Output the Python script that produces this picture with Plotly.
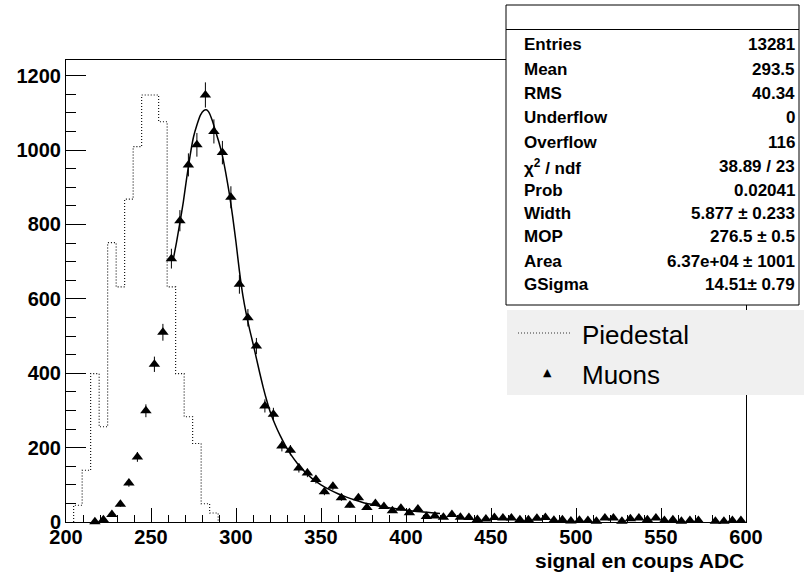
import numpy as np
import plotly.graph_objects as go

# ---------------- data ----------------
bin_width = 5.0

# Muons histogram (points with errors), first bin centre
muon_first_center = 217.0
muon_counts = [1, 6, 20, 48, 105, 175, 299, 424, 510, 708,
               810, 960, 1014, 1148, 1050, 993, 873, 639, 549, 473,
               312, 290, 204, 193, 145, 132, 114, 81, 96, 65,
               45, 65, 39, 50, 42, 30, 37, 25, 35, 15,
               16, 13, 20, 13, 12, 7, 8, 12, 11, 11,
               6, 6, 10, 12, 5, 6, 3, 5, 4, 2,
               11, 11, 2, 9, 11, 6, 11, 4, 6, 2,
               4, 4, 0, 2, 2, 4, 4]

# Piedestal histogram (dotted step line), first bin lower edge
ped_first_edge = 204.5
ped_counts = [45, 139, 399, 256, 751, 632, 868, 1009, 1148, 1148,
              1076, 632, 399, 283, 211, 49, 24]

# Fit curve (Landau x Gauss)
fit_x = [263, 265, 267, 269, 271, 273, 275, 277, 279, 281, 282.5, 284, 286, 288,
         290, 292, 294, 296, 298, 300, 302, 304, 306, 308, 310, 312, 314, 316,
         318, 320, 323, 326, 329, 332, 336, 340, 345, 350, 355, 360, 365, 370,
         375, 380, 385, 390, 395, 400, 405, 410, 415, 420]
fit_y = [704, 752, 805, 860, 925, 985, 1035, 1067, 1093, 1106, 1108, 1102, 1080, 1050,
         1020, 985, 938, 885, 822, 752, 675, 610, 560, 518, 480, 440, 400, 362,
         328, 298, 262, 232, 206, 183, 158, 137, 116, 100, 87, 76, 67, 59,
         52, 47, 42, 38, 35, 32, 29, 27, 25, 23]

stats_labels = ["Entries", "Mean", "RMS", "Underflow", "Overflow", "χ<sup>2</sup> / ndf",
                "Prob", "Width", "MOP", "Area", "GSigma"]
stats_values = ["13281", "293.5", "40.34", "0", "116", "38.89 / 23",
                "0.02041", "5.877 ± 0.233", "276.5 ± 0.5", "6.37e+04 ± 1001", "14.51± 0.79"]
stats_rows_px = [45, 69.5, 93.5, 118, 142.5, 166.5, 190, 213.5, 237, 261, 284]

legend_labels = ["Piedestal", "Muons"]
x_title = "signal en coups ADC"

# ---------------- geometry helpers ----------------
W, H = 804, 576
L, R, T, B = 66, 746, 60, 522   # plot frame in pixels


def px(xp):
    return (xp - L) / (R - L)


def py(yp):
    return (B - yp) / (B - T)


# ---------------- traces ----------------
fig = go.Figure()

# piedestal step outline
n = len(ped_counts)
edges = [ped_first_edge + i * bin_width for i in range(n + 1)]
sx = [edges[0]] + edges[:n] + [edges[n], edges[n]]
sy = [0] + ped_counts + [ped_counts[-1], 0]
fig.add_trace(go.Scatter(x=sx, y=sy, mode="lines", line_shape="hv",
                         line=dict(color="black", width=1.1, dash="1px,2px"),
                         hoverinfo="skip"))

# fit curve
fig.add_trace(go.Scatter(x=fit_x, y=fit_y, mode="lines",
                         line=dict(color="black", width=1.5, shape="spline", smoothing=0.6),
                         hoverinfo="skip"))

# muon points
mc = np.array(muon_counts, dtype=float)
mx = muon_first_center + bin_width * np.arange(len(mc))
keep = mc > 0
fig.add_trace(go.Scatter(x=mx[keep], y=mc[keep], mode="markers",
                         marker=dict(symbol="triangle-up", size=10, color="black"),
                         error_y=dict(type="data", array=np.sqrt(mc[keep]), visible=True,
                                      color="black", thickness=1, width=0),
                         cliponaxis=False))

# ---------------- layout ----------------
tickfont = dict(family="Liberation Sans, Arial, sans-serif", size=20, color="black", weight="bold")
fig.update_layout(
    width=W, height=H,
    margin=dict(l=L, r=W - R, t=T, b=H - B),
    plot_bgcolor="white", paper_bgcolor="white",
    showlegend=False,
    xaxis=dict(range=[200, 600], showline=True, linecolor="black", linewidth=1, mirror=True,
               ticks="inside", ticklen=14, tickwidth=1, tickcolor="black",
               tick0=200, dtick=50, showgrid=False, zeroline=False, tickfont=tickfont,
               ticklabelstandoff=-3,
               minor=dict(ticks="inside", ticklen=7, dtick=10, tickcolor="black", tickwidth=1,
                          showgrid=False)),
    yaxis=dict(range=[0, 1242], showline=True, linecolor="black", linewidth=1, mirror=True,
               ticks="inside", ticklen=20, tickwidth=1, tickcolor="black",
               tick0=0, dtick=200, showgrid=False, zeroline=False, tickfont=tickfont,
               minor=dict(ticks="inside", ticklen=10, dtick=50, tickcolor="black", tickwidth=1,
                          showgrid=False)),
)

shapes = []
annotations = []

# stats box
shapes.append(dict(type="rect", xref="paper", yref="paper",
                   x0=px(506), x1=px(799), y0=py(305), y1=py(5),
                   line=dict(color="black", width=1), fillcolor="white", layer="above"))
shapes.append(dict(type="line", xref="paper", yref="paper",
                   x0=px(506), x1=px(799), y0=py(29.5), y1=py(29.5),
                   line=dict(color="black", width=1), layer="above"))
statfont = dict(family="Liberation Sans, Arial, sans-serif", size=17, color="black", weight="bold")
for lab, val, yy in zip(stats_labels, stats_values, stats_rows_px):
    annotations.append(dict(xref="paper", yref="paper", x=px(522), y=py(yy), text=lab,
                            showarrow=False, xanchor="left", yanchor="middle", font=statfont))
    annotations.append(dict(xref="paper", yref="paper", x=px(797), y=py(yy), text=val,
                            showarrow=False, xanchor="right", yanchor="middle", font=statfont))

# legend box
shapes.append(dict(type="rect", xref="paper", yref="paper",
                   x0=px(507), x1=px(806), y0=py(395), y1=py(310),
                   line=dict(width=0), fillcolor="#f0f0f0", layer="above"))
shapes.append(dict(type="line", xref="paper", yref="paper",
                   x0=px(518), x1=px(570), y0=py(333), y1=py(333),
                   line=dict(color="#333333", width=1, dash="1px,2px"), layer="above"))
legfont = dict(family="Liberation Sans, Arial, sans-serif", size=26, color="black")
annotations.append(dict(xref="paper", yref="paper", x=px(547), y=py(372), text="▲",
                        showarrow=False, xanchor="center", yanchor="middle",
                        font=dict(family="DejaVu Sans", size=11, color="black")))
annotations.append(dict(xref="paper", yref="paper", x=px(580), y=py(335), text=legend_labels[0],
                        showarrow=False, xanchor="left", yanchor="middle", font=legfont))
annotations.append(dict(xref="paper", yref="paper", x=px(580), y=py(375), text=legend_labels[1],
                        showarrow=False, xanchor="left", yanchor="middle", font=legfont))

# x-axis title
annotations.append(dict(xref="paper", yref="paper", x=px(746), y=py(560), text=x_title,
                        showarrow=False, xanchor="right", yanchor="middle",
                        font=dict(family="Liberation Sans, Arial, sans-serif", size=21,
                                  color="black", weight="bold")))

fig.update_layout(shapes=shapes, annotations=annotations)
fig.write_html("out.html", config={"displayModeBar": False},
               post_script="document.body.style.margin='0px';")
